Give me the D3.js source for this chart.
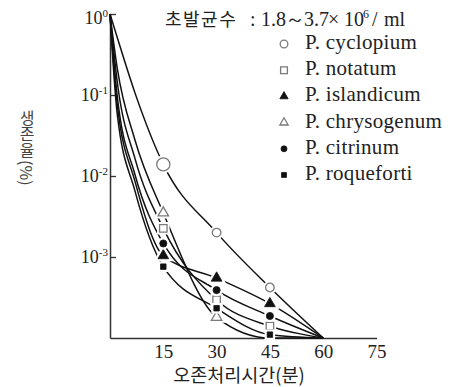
<!DOCTYPE html>
<html>
<head>
<meta charset="utf-8">
<script src="https://cdn.jsdelivr.net/npm/d3@7"></script>
<style>
  body { margin: 0; background: #fff; }
  svg { display: block; }
  .upright { writing-mode: vertical-rl; text-orientation: upright; }
  .sideways { writing-mode: vertical-rl; text-orientation: mixed; }
</style>
</head>
<body>
<svg id="chart" width="459" height="387"></svg>
<script>
// Ozone exposure time (min) at which survivors were counted
const minutes = [0, 15, 30, 45, 60];
// extra readings on the steep early part of each curve
const shoulderMinutes = [2, 7];

const speciesNames = ["P. cyclopium", "P. notatum", "P. islandicum",
                      "P. chrysogenum", "P. citrinum", "P. roqueforti"];

// surviving fraction at each time in `minutes`
const cyclopium   = [1, 0.0139, 0.0020, 0.00042, 0.0001];
const notatum     = [1, 0.00226, 0.000295, 0.00014, 0.0001];
const islandicum  = [1, 0.00104, 0.00055, 0.000266, 0.0001];
const chrysogenum = [1, 0.0035, 0.00018, 0.0001, 0.0001];
const citrinum    = [1, 0.00147, 0.00039, 0.000187, 0.0001];
const roqueforti  = [1, 0.00076, 0.000233, 0.00011, 0.0001];

// surviving fraction at each time in `shoulderMinutes`
const cyclopiumShoulder   = [0.52, 0.107];
const notatumShoulder     = [0.15, 0.0166];
const islandicumShoulder  = [0.079, 0.0087];
const chrysogenumShoulder = [0.22, 0.028];
const citrinumShoulder    = [0.10, 0.0105];
const roquefortiShoulder  = [0.060, 0.0066];

const xTickValues = [15, 30, 45, 60, 75];
const yTickValues = [1, 0.1, 0.01, 0.001];
const yTickExponents = ["0", "-1", "-2", "-3"];

// "초발균수 : 1.8～3.7×10⁶/ml", split into pieces set at their own x
const titlePieces = ["초발균수", ":", "1.8", "～", "3.7", "×", "10", "6", "/", "ml"];
const xTitle = "오존처리시간(분)";
const yTitleWord = "생존율";
const yTitleUnit = "(%)";

// ---- marker styling per species ----
const markerStyle = [
  { type: d3.symbolCircle,   filled: false, size: 58, firstSize: 135, legendSize: 46 },
  { type: d3.symbolSquare,   filled: false, size: 56, legendSize: 46 },
  { type: d3.symbolTriangle, filled: true,  size: 50, legendSize: 30 },
  { type: d3.symbolTriangle, filled: false, size: 48, legendSize: 30 },
  { type: d3.symbolCircle,   filled: true,  size: 40, legendSize: 28 },
  { type: d3.symbolSquare,   filled: true,  size: 30, legendSize: 24 }
];

const mainValues = [cyclopium, notatum, islandicum, chrysogenum, citrinum, roqueforti];
const shoulderValues = [cyclopiumShoulder, notatumShoulder, islandicumShoulder,
                        chrysogenumShoulder, citrinumShoulder, roquefortiShoulder];

const series = speciesNames.map((name, i) => {
  const pts = minutes.map((t, k) => ({ t, v: mainValues[i][k] }))
    .concat(shoulderMinutes.map((t, k) => ({ t, v: shoulderValues[i][k] })))
    .sort((a, b) => a.t - b.t);
  return { name, pts, style: markerStyle[i], values: mainValues[i] };
});

const svg = d3.select("#chart");
const serif = "'Liberation Serif', 'DejaVu Serif', serif";
const korean = "'Noto Sans CJK KR', sans-serif";
const gray = "#7a7a7a";

const x = d3.scaleLinear().domain([0, 75]).range([110, 376.5]);
const y = d3.scaleLog().domain([1e-4, 1]).range([338, 14]);
const floor = y.domain()[0];

// ---- axes ----
const xAxis = svg.append("g")
  .attr("transform", `translate(0,${y(floor)})`)
  .call(d3.axisBottom(x).tickValues(xTickValues).tickSize(0).tickPadding(6.5));
xAxis.select(".domain").attr("stroke", "#333").attr("stroke-width", 1.5);
xAxis.selectAll("text").attr("font-family", serif).attr("font-size", 19).attr("fill", "#222");

const yAxis = svg.append("g")
  .attr("transform", `translate(${x(0)},0)`)
  .call(d3.axisLeft(y).tickValues(yTickValues).tickSizeInner(-6).tickSizeOuter(0).tickFormat(""));
yAxis.select(".domain").attr("stroke", "#333").attr("stroke-width", 1.5);
yAxis.selectAll(".tick line").attr("stroke", "#333").attr("stroke-width", 1.3);

// power-of-ten tick labels
const yLabels = svg.append("g").attr("font-family", serif).attr("fill", "#222");
yTickValues.forEach((v, i) => {
  const t = yLabels.append("text")
    .attr("x", 108).attr("y", y(v) + 6 + (i === 0 ? 4 : 0))
    .attr("text-anchor", "end").attr("font-size", 18);
  t.append("tspan").text("10");
  t.append("tspan").attr("font-size", 11).attr("dy", -7).text(yTickExponents[i]);
});

// ---- survival curves ----
const line = d3.line()
  .x(d => x(d.t))
  .y(d => y(Math.max(d.v, floor)))
  .curve(d3.curveMonotoneX);

svg.append("g").selectAll("path")
  .data(series).join("path")
  .attr("d", d => line(d.pts))
  .attr("fill", "none")
  .attr("stroke", "#111")
  .attr("stroke-width", 1.5);

// ---- markers (with a white ring that breaks the line around them) ----
function drawMarker(g, style, size, cx, cy) {
  const path = d3.symbol().type(style.type).size(size)();
  g.append("path").attr("d", path)
    .attr("transform", `translate(${cx},${cy})`)
    .attr("fill", "#fff").attr("stroke", "#fff").attr("stroke-width", 5);
  g.append("path").attr("d", path)
    .attr("transform", `translate(${cx},${cy})`)
    .attr("fill", style.filled ? "#111" : "#fff")
    .attr("stroke", style.filled ? "#111" : gray)
    .attr("stroke-width", style.filled ? 0.8 : 1.3);
}

const markerLayer = svg.append("g");
series.forEach(s => {
  minutes.forEach((t, k) => {
    const v = s.values[k];
    if (t === 0 || v <= floor) return;
    const size = (k === 1 && s.style.firstSize) ? s.style.firstSize : s.style.size;
    drawMarker(markerLayer, s.style, size, x(t), y(v));
  });
});

// ---- title ----
const titleX = [165, 250, 261, 285, 304, 328, 344, 363, 372, 384];
const title = svg.append("text").attr("y", 26).attr("fill", "#222");
titlePieces.forEach((p, i) => {
  const ts = title.append("tspan").attr("x", titleX[i]).text(p);
  if (i === 0) ts.attr("font-family", korean).attr("font-size", 18).attr("letter-spacing", 1.5);
  else if (i === 7) ts.attr("font-family", serif).attr("font-size", 12).attr("dy", -8);
  else if (i === 8) ts.attr("font-family", serif).attr("font-size", 20).attr("dy", 8);
  else ts.attr("font-family", serif).attr("font-size", 20);
});

// ---- legend ----
const legend = svg.append("g");
series.forEach((s, i) => {
  const base = 49 + i * 26.2;
  drawMarker(legend, s.style, s.style.legendSize, 284, base - 5);
  legend.append("text")
    .attr("x", 305).attr("y", base)
    .attr("font-family", serif).attr("font-size", 21).attr("letter-spacing", 0.3)
    .attr("fill", "#222")
    .text(s.name);
});

// ---- axis titles ----
svg.append("text")
  .attr("x", 239).attr("y", 382)
  .attr("text-anchor", "middle")
  .attr("font-family", korean).attr("font-size", 18.5).attr("fill", "#222")
  .text(xTitle);

// vertical y title: upright Hangul, then the unit turned sideways
const yTitleSize = 16;
svg.append("text")
  .attr("class", "upright")
  .attr("x", 27).attr("y", 110)
  .attr("font-family", korean).attr("font-size", yTitleSize).attr("fill", "#444")
  .text(yTitleWord);
svg.append("text")
  .attr("class", "sideways")
  .attr("x", 27).attr("y", 110 + yTitleWord.length * yTitleSize + 2)
  .attr("font-family", korean).attr("font-size", yTitleSize).attr("fill", "#444")
  .text(yTitleUnit);
</script>
</body>
</html>
